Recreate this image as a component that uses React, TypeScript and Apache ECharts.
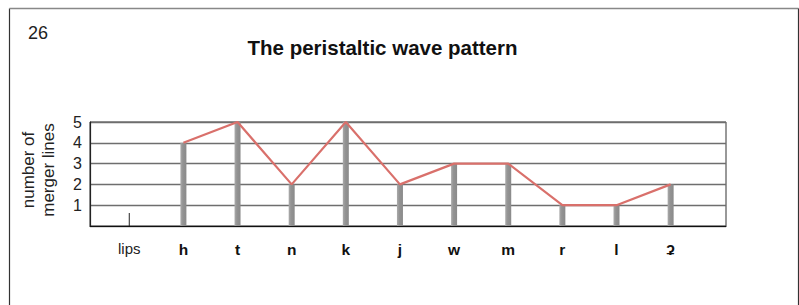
import React, { useEffect, useRef } from "react";
import * as echarts from "echarts";

const categories = ["lips", "h", "t", "n", "k", "j", "w", "m", "r", "l", "ʡ"];
const barValues = [null, 4, 5, 2, 5, 2, 3, 3, 1, 1, 2];
const lipsTick = [0.62, null, null, null, null, null, null, null, null, null, null];
const lineValues = [null, 4, 5, 2, 5, 2, 3, 3, 1, 1, 2];
const yTicks = ["", "1", "2", "3", "4", "5"];

const FONT = "'Liberation Sans', Arial, sans-serif";

export default function App() {
  const ref = useRef<HTMLDivElement>(null);
  useEffect(() => {
    if (!ref.current) return;
    const chart = echarts.init(ref.current, null, { renderer: "svg" });
    const gridTop = 122;
    const gridBottom = 79;
    chart.setOption({
      animation: false,
      backgroundColor: "#ffffff",
      textStyle: { fontFamily: FONT },
      grid: [
        { left: 90, right: 73, top: gridTop, bottom: gridBottom, show: true, borderColor: "#333", borderWidth: 1, backgroundColor: "transparent" },
        { left: 102.2, right: 101.3, top: gridTop, bottom: gridBottom },
      ],
      xAxis: [
        {
          gridIndex: 0, type: "value", min: 0, max: 1,
          axisLine: { show: true, onZero: false, lineStyle: { color: "#111", width: 1.2 } },
          axisTick: { show: false }, axisLabel: { show: false }, splitLine: { show: false },
        },
        {
          gridIndex: 1, type: "category", data: categories, boundaryGap: true,
          axisLine: { show: false }, axisTick: { show: false }, splitLine: { show: false },
          axisLabel: {
            margin: 15,
            interval: 0,
            fontFamily: FONT,
            formatter: (v: string) => (v === "lips" ? "{n|" + v + "}" : "{b|" + v + "}"),
            rich: {
              n: { fontSize: 15, color: "#222", fontFamily: FONT },
              b: { fontSize: 15.5, color: "#111", fontWeight: "bold", fontFamily: FONT },
            },
          },
        },
        {
          gridIndex: 1, type: "category", data: categories, boundaryGap: true, show: false,
        },
      ],
      yAxis: [
        {
          gridIndex: 0, type: "value", min: 0, max: 5, interval: 1,
          axisLine: { show: true, lineStyle: { color: "#222", width: 1.2 } },
          axisTick: { show: false },
          axisLabel: {
            margin: 8, fontSize: 16, color: "#222", fontFamily: FONT,
            formatter: (v: number) => yTicks[Math.round(v)] ?? "",
          },
          splitLine: { show: true, lineStyle: { color: "#6e6e6e", width: 1.3 } },
        },
        { gridIndex: 1, type: "value", min: 0, max: 5, interval: 1, show: false, splitLine: { show: false } },
        { gridIndex: 1, type: "value", min: 0, max: 5, interval: 1, show: false, splitLine: { show: false } },
      ],
      series: [
        {
          type: "bar", xAxisIndex: 1, yAxisIndex: 1, data: barValues, barWidth: 6, z: 2,
          itemStyle: {
            color: new echarts.graphic.LinearGradient(0, 0, 1, 0, [
              { offset: 0, color: "#ababab" },
              { offset: 0.4, color: "#939393" },
              { offset: 1, color: "#8a8a8a" },
            ]),
          },
        },
        {
          type: "bar", xAxisIndex: 2, yAxisIndex: 2, data: lipsTick, barWidth: 1, z: 2,
          itemStyle: { color: "#222" },
        },
        {
          type: "line", xAxisIndex: 1, yAxisIndex: 1, data: lineValues, z: 5,
          symbol: "none", connectNulls: false,
          lineStyle: { color: "#d9706b", width: 2.2 },
        },
      ],
      graphic: [
        {
          type: "polyline", z: 10,
          shape: { points: [[9.5, 305], [9.5, 8.5]] },
          style: { stroke: "#333", lineWidth: 1.2, fill: "none" },
        },
        {
          type: "polyline", z: 10,
          shape: { points: [[9.5, 8.5], [798.5, 8.5]] },
          style: { stroke: "#888", lineWidth: 1.5, fill: "none" },
        },
        {
          type: "polyline", z: 10,
          shape: { points: [[798.5, 8.5], [798.5, 305]] },
          style: { stroke: "#333", lineWidth: 1.2, fill: "none" },
        },
        {
          type: "text", left: 28, top: 24,
          style: { text: "26", fontSize: 18, fill: "#222", font: "18px " + FONT },
        },
        {
          type: "text", x: 382.5, y: 47,
          style: {
            text: "The peristaltic wave pattern", fill: "#111",
            font: "bold 20.5px " + FONT, align: "center", verticalAlign: "middle",
          },
        },
        {
          type: "text", x: 38, y: 170, rotation: Math.PI / 2,
          style: {
            text: "number of\nmerger lines", fill: "#222",
            font: "17px " + FONT, lineHeight: 20, align: "center", verticalAlign: "middle",
          },
        },
      ],
    });
    return () => chart.dispose();
  }, []);
  return (
    <div
      ref={ref}
      style={{ position: "absolute", left: 0, top: 0, width: 799, height: 305 }}
    />
  );
}
